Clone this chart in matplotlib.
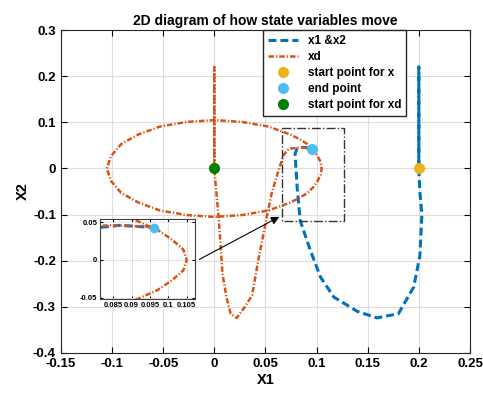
import matplotlib
matplotlib.use("Agg")
import matplotlib.pyplot as plt

plt.rcParams['font.family'] = ['Liberation Sans', 'DejaVu Sans']
plt.rcParams['font.weight'] = 'bold'

# trajectoire x (x1, x2)
x1 = [0.200, 0.200, 0.200, 0.201, 0.203, 0.201, 0.195, 0.180, 0.159, 0.140, 0.117, 0.104,
      0.094, 0.084, 0.081, 0.079, 0.081, 0.087, 0.096]
x2 = [0.000, 0.220, 0.000, -0.050, -0.100, -0.190, -0.257, -0.315, -0.324, -0.310, -0.279,
      -0.236, -0.178, -0.113, -0.040, 0.032, 0.043, 0.046, 0.043]

# trajectoire xd
xd1 = [0.000, 0.000, 0.000, 0.004, 0.006, 0.008, 0.012, 0.016, 0.022, 0.030, 0.037, 0.043,
       0.052, 0.056, 0.062, 0.066, 0.068, 0.073, 0.078, 0.084, 0.095,
       0.0970, 0.101, 0.1041, 0.105, 0.1041, 0.101, 0.0970, 0.091, 0.0833, 0.074, 0.053, 0.027,
       0.000, -0.027, -0.053, -0.074, -0.091, -0.101, -0.105, -0.101, -0.091, -0.074, -0.053,
       -0.027, 0.000, 0.027, 0.053, 0.074, 0.0833, 0.091, 0.095]
xd2 = [0.000, 0.220, 0.000, -0.100, -0.160, -0.228, -0.280, -0.315, -0.324, -0.300, -0.275,
       -0.199, -0.098, -0.055, -0.010, 0.017, 0.030, 0.043, 0.044, 0.046, 0.044,
       0.0402, 0.027, 0.0137, 0.000, -0.0137, -0.027, -0.0402, -0.053, -0.0639, -0.074, -0.091,
       -0.101, -0.105, -0.101, -0.091, -0.074, -0.053, -0.027, 0.000, 0.027, 0.053, 0.074,
       0.091, 0.101, 0.105, 0.101, 0.091, 0.074, 0.0639, 0.053, 0.044]

start_x = (0.200, 0.000)
end_pt = (0.096, 0.043)
start_xd = (0.000, 0.000)

bleu = '#0072BD'
orange = '#D95319'


def tracer(ax, ms=7):
    ax.plot(x1, x2, color=bleu, lw=2.2, ls=(0, (2.6, 1.3)), label='x1 &x2')
    ax.plot(xd1, xd2, color=orange, lw=1.8, ls=(0, (2.2, 0.8, 0.5, 0.8)), label='xd')
    ax.plot(*start_x, 'o', color='#EDB120', ms=ms, ls='none', label='start point for x')
    ax.plot(*end_pt, 'o', color='#4DBEEE', ms=ms, ls='none', label='end point')
    ax.plot(*start_xd, 'o', color='#008000', ms=ms, ls='none', label='start point for xd')


fig = plt.figure(figsize=(4.83, 3.97), dpi=100)
ax = fig.add_axes([0.126, 0.111, 0.847, 0.813])
tracer(ax)

ax.set_xlim(-0.15, 0.25)
ax.set_ylim(-0.4, 0.3)
ax.set_xticks([-0.15, -0.1, -0.05, 0, 0.05, 0.1, 0.15, 0.2, 0.25])
ax.set_xticklabels(['-0.15', '-0.1', '-0.05', '0', '0.05', '0.1', '0.15', '0.2', '0.25'])
ax.set_yticks([-0.4, -0.3, -0.2, -0.1, 0, 0.1, 0.2, 0.3])
ax.set_yticklabels(['-0.4', '-0.3', '-0.2', '-0.1', '0', '0.1', '0.2', '0.3'])
ax.tick_params(direction='in', top=True, right=True, labelsize=9.5, length=4)
ax.grid(True, color='#DDDDDD', lw=0.8)
ax.set_axisbelow(True)
for s in ax.spines.values():
    s.set_color('#262626')
ax.set_title('2D diagram of how state variables move', fontsize=10, fontweight='bold', pad=4)
ax.set_xlabel('X1', fontsize=10.5, fontweight='bold', labelpad=2)
ax.set_ylabel('X2', fontsize=10.5, fontweight='bold', labelpad=2)

leg = ax.legend(loc='upper left', bbox_to_anchor=(0.494, 1.0), borderaxespad=0,
                fontsize=8.5, labelspacing=0.35, handlelength=2.6, fancybox=False,
                framealpha=1, edgecolor='#262626', borderpad=0.4)
leg.get_frame().set_linewidth(1.0)

# cadre de zoom
ax.plot([0.066, 0.127, 0.127, 0.066, 0.066], [0.088, 0.088, -0.113, -0.113, 0.088],
        '-.', color='#333333', lw=1.0)
ax.annotate('', xy=(0.066, -0.102), xytext=(-0.017, -0.2),
            arrowprops=dict(arrowstyle='-|>', color='black', lw=0.8, mutation_scale=12))

# encart
axin = fig.add_axes([0.207, 0.247, 0.197, 0.2015])
tracer(axin, ms=6)
axin.set_xlim(0.0814, 0.1073)
axin.set_ylim(-0.0517, 0.0544)
axin.set_xticks([0.085, 0.09, 0.095, 0.1, 0.105])
axin.set_xticklabels(['0.085', '0.09', '0.095', '0.1', '0.105'])
axin.set_yticks([-0.05, 0, 0.05])
axin.set_yticklabels(['-0.05', '0', '0.05'])
axin.tick_params(direction='in', top=True, right=True, labelsize=5.5, length=2, pad=2)
axin.grid(True, color='#DDDDDD', lw=0.6)
axin.set_axisbelow(True)
for s in axin.spines.values():
    s.set_color('#404040')

fig.savefig('out.png', dpi=100)
